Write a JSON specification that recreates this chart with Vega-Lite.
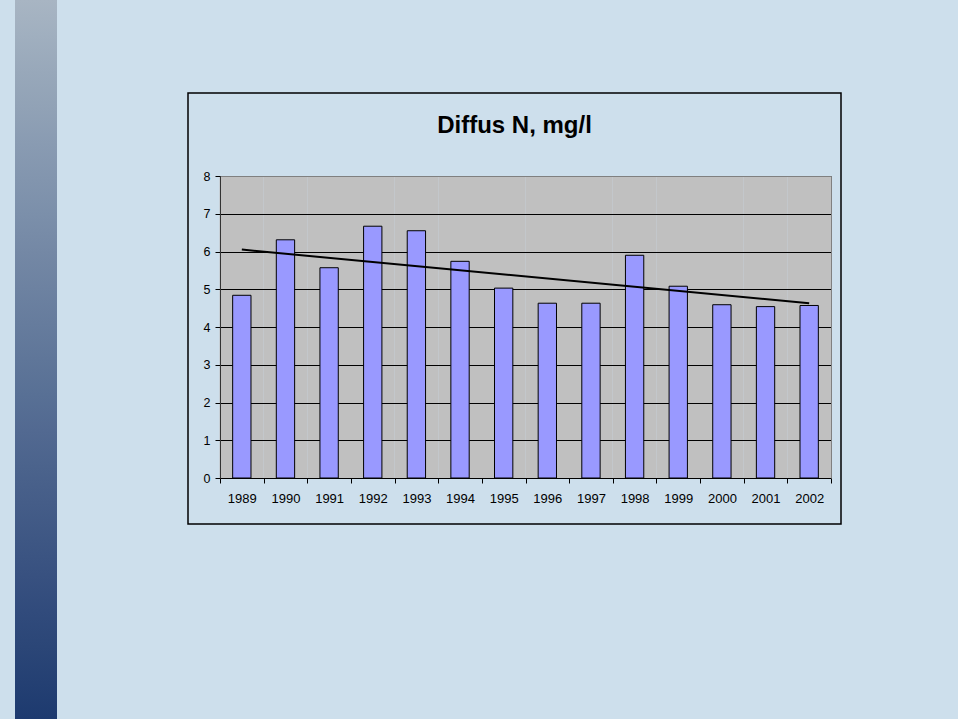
{
  "$schema": "https://vega.github.io/schema/vega-lite/v6.json",
  "width": 653,
  "height": 431,
  "autosize": {"type": "none"},
  "padding": {"left": 188, "top": 93, "right": 117, "bottom": 195},
  "background": "#cddfec",
  "config": {
    "view": {"fill": "#ffffff", "stroke": "#000000", "strokeWidth": 1.5},
    "font": "Liberation Sans"
  },
  "title": {
    "text": "Diffus N, mg/l",
    "fontSize": 24,
    "fontWeight": "bold",
    "font": "Liberation Sans",
    "color": "#000000",
    "anchor": "middle",
    "frame": "group",
    "offset": -138
  },
  "datasets": {
    "n": [
      {"year": "1989", "value": 4.84},
      {"year": "1990", "value": 6.31},
      {"year": "1991", "value": 5.57},
      {"year": "1992", "value": 6.67},
      {"year": "1993", "value": 6.55},
      {"year": "1994", "value": 5.74},
      {"year": "1995", "value": 5.03},
      {"year": "1996", "value": 4.63},
      {"year": "1997", "value": 4.63},
      {"year": "1998", "value": 5.90},
      {"year": "1999", "value": 5.08},
      {"year": "2000", "value": 4.59},
      {"year": "2001", "value": 4.54},
      {"year": "2002", "value": 4.57}
    ],
    "trend": [
      {"year": "1989", "value": 6.05},
      {"year": "2002", "value": 4.63}
    ],
    "slide": [
      {"shade": 0}
    ]
  },
  "layer": [
    {
      "data": {"name": "n"},
      "mark": {"type": "bar", "width": {"band": 0.42}, "fill": "#9999ff", "stroke": "#000000", "strokeWidth": 1},
      "encoding": {
        "x": {
          "field": "year",
          "type": "ordinal",
          "scale": {"range": [32, 643], "paddingInner": 0, "paddingOuter": 0},
          "axis": {
            "orient": "bottom",
            "offset": -46,
            "tickBand": "extent",
            "tickSize": 5,
            "tickColor": "#000000",
            "domainColor": "#000000",
            "labelAngle": 0,
            "labelFontSize": 13,
            "labelColor": "#000000",
            "labelPadding": 9,
            "title": null,
            "grid": false
          }
        },
        "y": {
          "field": "value",
          "type": "quantitative",
          "scale": {"domain": [0, 8], "range": [385, 83], "nice": false, "zero": true},
          "axis": {
            "orient": "left",
            "offset": -32,
            "values": [0, 1, 2, 3, 4, 5, 6, 7, 8],
            "grid": true,
            "gridColor": "#000000",
            "gridWidth": 1,
            "gridOpacity": 1,
            "tickSize": 5,
            "tickColor": "#000000",
            "domainColor": "#333333",
            "labelFontSize": 12.5,
            "labelColor": "#000000",
            "labelPadding": 5,
            "title": null
          }
        }
      }
    },
    {
      "data": {"name": "trend"},
      "mark": {"type": "line", "stroke": "#000000", "strokeWidth": 2},
      "encoding": {
        "x": {
          "field": "year",
          "type": "ordinal",
          "axis": {
            "orient": "top",
            "offset": -83,
            "grid": true,
            "gridColor": "#c0c0c0",
            "gridOpacity": 1,
            "gridWidth": 44,
            "bandPosition": 0.5,
            "ticks": false,
            "labels": false,
            "domain": true,
            "domainColor": "#808080",
            "domainWidth": 1,
            "title": null
          }
        },
        "y": {
          "field": "value",
          "type": "quantitative",
          "axis": {
            "orient": "right",
            "offset": -10,
            "grid": false,
            "ticks": false,
            "labels": false,
            "domainColor": "#808080",
            "title": null
          }
        }
      }
    },
    {
      "data": {"name": "slide"},
      "mark": {"type": "point", "opacity": 0},
      "encoding": {
        "color": {
          "field": "shade",
          "type": "quantitative",
          "scale": {"domain": [0, 1], "range": ["#1d3a6f", "#a8b5c3"]},
          "legend": {
            "orient": "none",
            "legendX": -173,
            "legendY": -93,
            "direction": "vertical",
            "gradientLength": 719,
            "gradientThickness": 42,
            "gradientStrokeWidth": 0,
            "padding": 0,
            "title": null,
            "labelOpacity": 0,
            "labelFontSize": 1
          }
        }
      }
    }
  ],
  "resolve": {"axis": {"x": "independent", "y": "independent"}}
}
